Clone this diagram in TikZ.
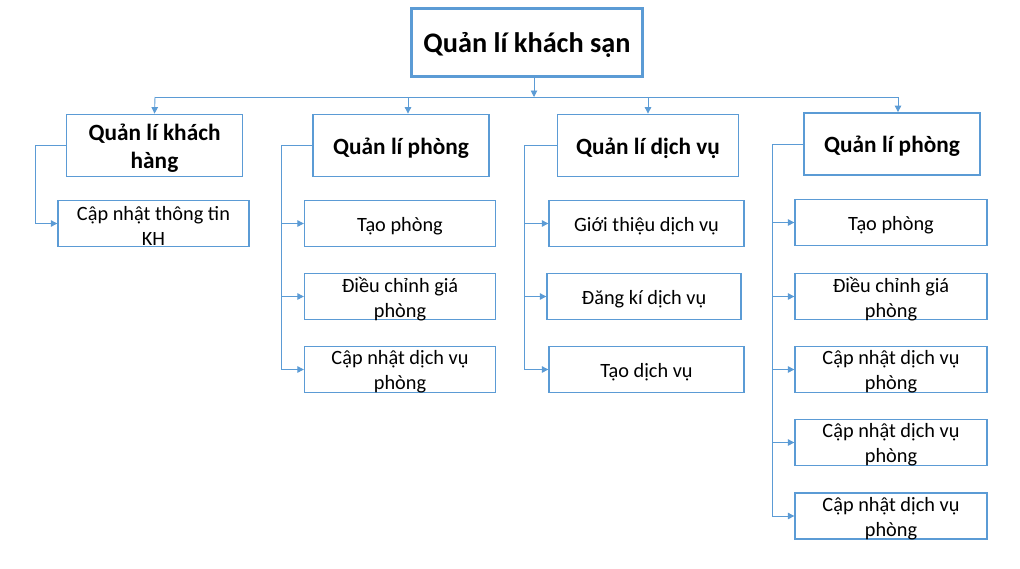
\documentclass[tikz,border=0pt]{standalone}
\usepackage{fontspec}
\setmainfont{Carlito}
\usetikzlibrary{arrows.meta}
\definecolor{bl}{HTML}{5B9BD5}
\tikzset{
  txt/.style={inner sep=0pt,align=center,yshift=-2.5pt},
  rootbox/.style={draw=bl,line width=3pt,minimum width=231pt,minimum height=68pt,inner sep=0pt,
    label={[txt,font=\fontsize{28.3}{32}\selectfont\bfseries]center:#1}},
  midbox/.style={draw=bl,line width=1.8pt,minimum width=176pt,minimum height=62pt,inner sep=0pt,
    label={[txt,font=\fontsize{23.3}{28}\selectfont\bfseries]center:#1}},
  leafbox/.style={draw=bl,line width=1.3pt,minimum width=191pt,minimum height=46pt,inner sep=0pt,
    label={[txt,font=\fontsize{20.3}{25}\selectfont]center:#1}},
  conn/.style={draw=bl,line width=0.9pt,-{Triangle[length=6.5pt,width=6.5pt]}},
  plain/.style={draw=bl,line width=0.9pt}
}
\begin{document}
\begin{tikzpicture}[x=1pt,y=-1pt]
\useasboundingbox (0,0) rectangle (1020,568);
\node[rootbox={Quản lí khách sạn}] (root) at (527,42.5) {};
\node[midbox={Quản lí khách\\hàng}] (A) at (154.5,145.5) {};
\node[midbox={Quản lí phòng}] (B) at (401,145.5) {};
\node[midbox={Quản lí dịch vụ},minimum width=181pt] (C) at (648,145.5) {};
\node[midbox={Quản lí phòng}] (D) at (892,144) {};

\node[leafbox={Cập nhật thông tin\\KH}] (A1) at (153.5,223.5) {};
\node[leafbox={Tạo phòng}] (B1) at (400,223.5) {};
\node[leafbox={Điều chỉnh giá\\phòng}] (B2) at (400,296.5) {};
\node[leafbox={Cập nhật dịch vụ\\phòng}] (B3) at (400,369.5) {};
\node[leafbox={Giới thiệu dịch vụ},minimum width=195pt] (C1) at (646.5,223.5) {};
\node[leafbox={Đăng kí dịch vụ},minimum width=194pt] (C2) at (644,296.5) {};
\node[leafbox={Tạo dịch vụ},minimum width=195pt] (C3) at (646.5,369.5) {};
\node[leafbox={Tạo phòng},minimum width=192pt] (D1) at (891,222.5) {};
\node[leafbox={Điều chỉnh giá\\phòng},minimum width=192pt] (D2) at (891,296.5) {};
\node[leafbox={Cập nhật dịch vụ\\phòng},minimum width=192pt] (D3) at (891,369.5) {};
\node[leafbox={Cập nhật dịch vụ\\phòng},minimum width=192pt] (D4) at (891,442.5) {};
\node[leafbox={Cập nhật dịch vụ\\phòng},minimum width=192pt] (D5) at (891,516) {};

% bus
\coordinate (bl) at (155,97);
\coordinate (br) at (898,97);
\draw[plain] (bl) -- (br);
\draw[conn] ([xshift=7pt]root.south) -- ([xshift=7pt]root.south |- bl);
\draw[conn] (bl) -- (A.north);
\draw[conn] ([xshift=7pt]B.north |- bl) -- ([xshift=7pt]B.north);
\draw[conn] (C.north |- bl) -- (C.north);
\draw[conn] ([xshift=6pt]D.north |- bl) -- ([xshift=6pt]D.north);

% branches
\draw[conn] (A.west) -- ++(-30,0) |- (A1.west);
\foreach \c in {B1,B2,B3}{\draw[conn] (B.west) -- ++(-31,0) |- (\c.west);}
\foreach \c in {C1,C2,C3}{\draw[conn] (C.west) -- ++(-32,0) |- (\c.west);}
\foreach \c in {D1,D2,D3,D4,D5}{\draw[conn] (D.west) -- ++(-31,0) |- (\c.west);}
\end{tikzpicture}
\end{document}
